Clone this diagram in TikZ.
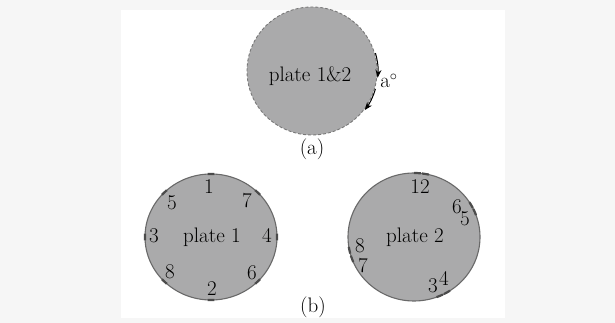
\documentclass[tikz,border=0pt]{standalone}
\usetikzlibrary{shapes.geometric,arrows.meta}
\definecolor{outerbg}{RGB}{246,246,246}
\definecolor{platefill}{RGB}{170,170,171}
\definecolor{plateedge}{RGB}{105,105,105}
\definecolor{markc}{RGB}{75,75,75}
\tikzset{
  x=1pt,y=1pt,
  lbl/.style={inner sep=0pt,anchor=base,font=\fontsize{21}{25}\selectfont},
  plate/.style={ellipse,inner sep=0pt,fill=platefill,draw=plateedge,line width=1.1pt},
  markst/.style={draw=markc,line width=2.2pt},
  rot/.style={-{Stealth[length=8pt,width=6pt]},line width=1pt,black}
}
\newcommand{\platemark}[4]{% node, angle, rx, ry
  \draw[markst] (#1.center) ++(#2-3:#3 and #4) arc[start angle=#2-3,delta angle=6,x radius=#3,y radius=#4];}
\begin{document}
\begin{tikzpicture}
\useasboundingbox (0,0) rectangle (615,323);
\fill[outerbg] (0,0) rectangle (615,323);
\fill[white] (121,5) rectangle (505,313);
% (a)
\node[plate,draw=plateedge!90,line width=0.9pt,dash pattern=on 3pt off 2pt,minimum width=130,minimum height=128] (pa) at (312,252) {};
\node[lbl] (pat) at (310,241) {plate 1\&2};
\draw[rot] (pa.center) ++(16:66 and 65) arc[start angle=16,end angle=-6,x radius=66,y radius=65];
\draw[rot] (pa.center) ++(-16:66 and 65) arc[start angle=-16,end angle=-37,x radius=66,y radius=65];
\node[lbl] (ang) at (389,235) {a$^{\circ}$};
\node[lbl] (capa) at (312,168) {(a)};
% plate 1
\node[plate,minimum width=132,minimum height=126] (p1) at (211,86) {};
\foreach \a in {0,45,...,315}{\platemark{p1}{\a}{66}{63}}
\node[lbl] (p1t) at (212,80) {plate 1};
\node[lbl] (p1n1) at (209,129) {1};
\node[lbl] (p1n7) at (247,115) {7};
\node[lbl] (p1n5) at (172,113) {5};
\node[lbl] (p1n3) at (154,80) {3};
\node[lbl] (p1n4) at (267,80) {4};
\node[lbl] (p1n8) at (170,44) {8};
\node[lbl] (p1n6) at (252,43) {6};
\node[lbl] (p1n2) at (212,27) {2};
% plate 2
\node[plate,minimum width=132,minimum height=128] (p2) at (414,86) {};
\foreach \a in {80,87,23,30,192,200,-60,-67}{\platemark{p2}{\a}{66}{64}}
\node[lbl] (p2t) at (415,80) {plate 2};
\node[lbl] (p2n12) at (420,129) {12};
\node[lbl] (p2n6) at (457,109) {6};
\node[lbl] (p2n5) at (465,97) {5};
\node[lbl] (p2n8) at (360,70) {8};
\node[lbl] (p2n7) at (363,50) {7};
\node[lbl] (p2n3) at (433,30) {3};
\node[lbl] (p2n4) at (444,37) {4};
\node[lbl] (capb) at (313,10) {(b)};
\end{tikzpicture}
\end{document}
